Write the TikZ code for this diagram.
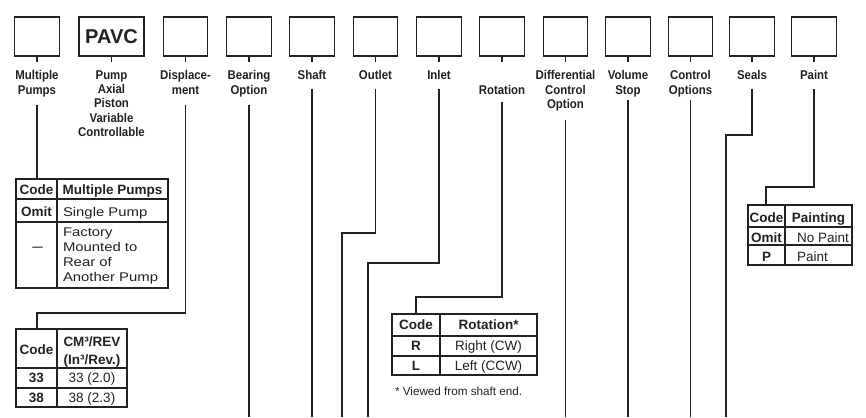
\documentclass[tikz,border=0pt]{standalone}
\usepackage{fontspec}
\setmainfont{Liberation Sans}
\newfontfamily\lblfont[FakeStretch=0.9]{Liberation Sans}
\newfontfamily\widefont[FakeStretch=1.18]{Liberation Sans}
\usetikzlibrary{calc}
\definecolor{ink}{HTML}{222222}
\begin{document}
\begin{tikzpicture}[x=1pt,y=-1pt,
  every node/.style={inner sep=0pt, outer sep=0pt, text=ink},
  codebox/.style={draw=ink, line width=1.4pt, minimum width=44.5pt, minimum height=39pt},
  lbl/.style={font=\lblfont\bfseries\fontsize{12.7}{14.2}\selectfont, align=center, anchor=north},
  wire/.style={draw=ink, line width=1.3pt},
  frame/.style={draw=ink, line width=1.3pt},
  tb/.style={font=\bfseries\fontsize{13.5}{15}\selectfont, anchor=base},
  tr/.style={font=\fontsize{13.5}{15}\selectfont, anchor=base},
  trw/.style={font=\fontsize{13.5}{15}\selectfont, anchor=base west},
  tw/.style={font=\widefont\fontsize{12.6}{15}\selectfont, anchor=base west},
]
\fill[white] (0,0) rectangle (866,417);
\useasboundingbox (0,0) rectangle (866,417);
\coordinate (bot) at (0,417);

% code boxes
\node[codebox] (b1) at (37,36.5) {};
\node[codebox, minimum width=65pt, font=\bfseries\fontsize{20}{20}\selectfont] (b2) at (111.5,36.5) {PAVC};
\node[codebox] (b3) at (185.5,36.5) {};
\node[codebox] (b4) at (249,36.5) {};
\node[codebox] (b5) at (312,36.5) {};
\node[codebox] (b6) at (375.5,36.5) {};
\node[codebox] (b7) at (439,36.5) {};
\node[codebox] (b8) at (502,36.5) {};
\node[codebox] (b9) at (565.5,36.5) {};
\node[codebox] (b10) at (628,36.5) {};
\node[codebox] (b11) at (690.5,36.5) {};
\node[codebox] (b12) at (752,36.5) {};
\node[codebox] (b13) at (814,36.5) {};
\foreach \i in {1,...,13} {\draw[wire] (b\i.south) -- ++(0,6);}

% labels
\node[lbl] (l1) at (37,70.7) {Multiple\\Pumps};
\node[lbl] (l2) at (111.5,70.7) {Pump\\Axial\\Piston\\Variable\\Controllable};
\node[lbl] (l3) at (185.5,70.7) {Displace-\\ment};
\node[lbl] (l4) at (249,70.7) {Bearing\\Option};
\node[lbl] (l5) at (312,70.7) {Shaft};
\node[lbl] (l6) at (375.5,70.7) {Outlet};
\node[lbl] (l7) at (439,70.7) {Inlet};
\node[lbl] (l8) at (502,84.9) {Rotation};
\node[lbl] (l9) at (565.5,70.7) {Differential\\Control\\Option};
\node[lbl] (l10) at (628,70.7) {Volume\\Stop};
\node[lbl] (l11) at (690.5,70.7) {Control\\Options};
\node[lbl] (l12) at (752,70.7) {Seals};
\node[lbl] (l13) at (814,70.7) {Paint};

% line starts
\coordinate (s1) at ($(b1.south)+(0,49)$);
\coordinate (s3) at ($(b3.south)+(0,49)$);
\coordinate (s4) at ($(b4.south)+(0,49)$);
\coordinate (s5) at ($(b5.south)+(0,33)$);
\coordinate (s6) at ($(b6.south)+(0,33)$);
\coordinate (s7) at ($(b7.south)+(0,33)$);
\coordinate (s8) at ($(b8.south)+(0,46)$);
\coordinate (s9) at ($(b9.south)+(0,64)$);
\coordinate (s10) at ($(b10.south)+(0,44)$);
\coordinate (s11) at ($(b11.south)+(0,44)$);
\coordinate (s12) at ($(b12.south)+(0,33)$);
\coordinate (s13) at ($(b13.south)+(0,33)$);

% tables (outer frames)
\node[frame, minimum width=152pt, minimum height=109pt] (tMP) at (92,233.5) {};
\node[frame, minimum width=111pt, minimum height=78pt] (tD) at (71.5,368) {};
\node[frame, minimum width=145pt, minimum height=61pt] (tR) at (464.5,344.5) {};
\node[frame, minimum width=104pt, minimum height=60pt] (tP) at (800,235) {};

% table grid lines
\draw[frame] (57,179) -- (57,288) (16,199) -- (168,199) (16,222) -- (168,222);
\draw[frame] (57,329) -- (57,407) (16,368) -- (127,368) (16,388) -- (127,388);
\draw[frame] (440,314) -- (440,375) (392,336) -- (537,336) (392,356) -- (537,356);
\draw[frame] (785,205) -- (785,265) (748,227) -- (852,227) (748,245) -- (852,245);

% junction coordinates
\coordinate (j3) at (37,313);
\coordinate (j6) at (342,233);
\coordinate (e6) at (342,417);
\coordinate (j7) at (368,263);
\coordinate (e7) at (368,417);
\coordinate (j8) at (416,297);
\coordinate (j12) at (726,135);
\coordinate (e12) at (726,417);
\coordinate (j13) at (766,187);

% connectors
\draw[wire] (s1) -- (s1 |- tMP.north);
\draw[wire] (s3) |- (j3) -- (j3 |- tD.north);
\draw[wire] (s4) -- (s4 |- bot);
\draw[wire] (s5) -- (s5 |- bot);
\draw[wire] (s6) |- (j6) -- (e6);
\draw[wire] (s7) |- (j7) -- (e7);
\draw[wire] (s8) |- (j8) -- (j8 |- tR.north);
\draw[wire] (s9) -- (s9 |- bot);
\draw[wire] (s10) -- (s10 |- bot);
\draw[wire] (s11) -- (s11 |- bot);
\draw[wire] (s12) |- (j12) -- (e12);
\draw[wire] (s13) |- (j13) -- (j13 |- tP.north);

% Multiple pumps table text
\node[tb] (mpc) at (36.5,194.5) {Code};
\node[tb] (mph) at (112.5,194.5) {Multiple Pumps};
\node[tb] (mpo) at (36.5,216) {Omit};
\node[tw] (mps) at (63,216) {Single Pump};
\node[font=\bfseries\fontsize{10.5}{12}\selectfont, anchor=base] (mpd) at (37.5,250.5) {—};
\node[tw] (mpf1) at (63,236) {Factory};
\node[tw] (mpf2) at (63,251) {Mounted to};
\node[tw] (mpf3) at (63,266) {Rear of};
\node[tw] (mpf4) at (63,281) {Another Pump};

% Displacement table text
\node[tb] (dc) at (36.5,354.5) {Code};
\node[tb] (dh1) at (92,346) {CM³/REV};
\node[tb] (dh2) at (92,364.5) {(In³/Rev.)};
\node[tb] (d33) at (36.5,382.8) {33};
\node[tr] (d33v) at (92,382.8) {33 (2.0)};
\node[tb] (d38) at (36.5,402.3) {38};
\node[tr] (d38v) at (92,402.3) {38 (2.3)};

% Rotation table text
\node[tb] (rc) at (416,329.8) {Code};
\node[tb] (rh) at (488.5,329.8) {Rotation*};
\node[tb] (rr) at (416,350.8) {R};
\node[tr] (rrv) at (488.5,350.8) {Right (CW)};
\node[tb] (rl) at (416,370.6) {L};
\node[tr] (rlv) at (488.5,370.6) {Left (CCW)};
\node[font=\fontsize{11.7}{14}\selectfont, anchor=base west] (rfn) at (395,395) {* Viewed from shaft end.};

% Paint table text
\node[tb] (pc) at (766.5,222) {Code};
\node[tb] (ph) at (818.5,222) {Painting};
\node[tb] (po) at (766.5,242) {Omit};
\node[trw] (pov) at (797,242) {No Paint};
\node[tb] (pp) at (766.5,261.5) {P};
\node[trw] (ppv) at (797,261.5) {Paint};
\end{tikzpicture}
\end{document}
